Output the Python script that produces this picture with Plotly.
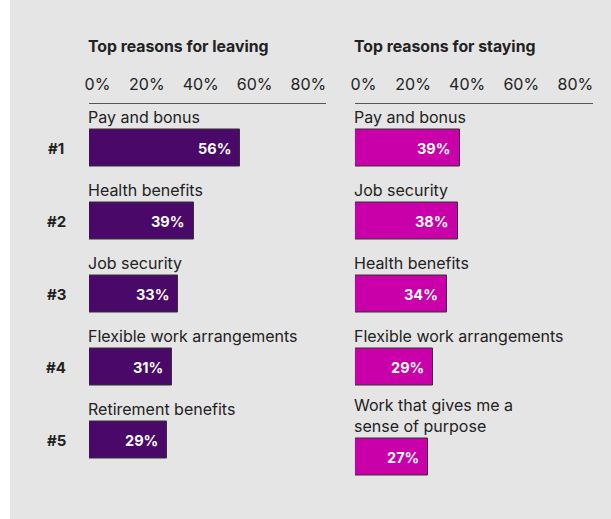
import plotly.graph_objects as go

# Survey results: top five reasons for leaving / staying
leave_reasons = ["Pay and bonus", "Health benefits", "Job security",
                 "Flexible work arrangements", "Retirement benefits"]
leave_values = [56, 39, 33, 31, 29]

stay_reasons = ["Pay and bonus", "Job security", "Health benefits",
                "Flexible work arrangements", "Work that gives me a<br>sense of purpose"]
stay_values = [39, 38, 34, 29, 27]

ranks = ["#1", "#2", "#3", "#4", "#5"]
tick_vals = [0, 20, 40, 60, 80]
tick_text = ["\u00a0\u00a00%", "20%", "40%", "60%", "80%"]

titles = ["Top reasons for leaving", "Top reasons for staying"]

W, H = 611, 519
FONT = "Inter, Roboto, sans-serif"
TEXT = "#222222"
LEAVE_COLOR = "#4a0868"
STAY_COLOR = "#c900a9"
AXIS_TOP_PX = 103.5    # baseline of the percentage scale
ROW_PX = 73.0          # vertical pitch of one row
FIRST_ROW_PX = 148.0   # centre of first bar
EXTRA_LINE_ROWS = 17.0 / ROW_PX

# row positions: rows with multi-line labels are pushed down by the extra line height
def row_positions(labels):
    pos, shift = [], 0.0
    for i, lab in enumerate(labels):
        shift += lab.count("<br>") * EXTRA_LINE_ROWS
        pos.append(i + shift)
    return pos

leave_y = row_positions(leave_reasons)
stay_y = row_positions(stay_reasons)

dom_h = H - AXIS_TOP_PX
y_top = -(FIRST_ROW_PX - AXIS_TOP_PX) / ROW_PX
y_bot = y_top + dom_h / ROW_PX

panels = [
    dict(x0=89, x1=326, xa="x", ya="y", reasons=leave_reasons, vals=leave_values,
         ys=leave_y, color=LEAVE_COLOR),
    dict(x0=355, x1=593, xa="x2", ya="y2", reasons=stay_reasons, vals=stay_values,
         ys=stay_y, color=STAY_COLOR),
]

fig = go.Figure()
annotations = []
shapes = [dict(type="rect", xref="paper", yref="paper", x0=10 / W, x1=1, y0=0, y1=1,
               fillcolor="#e5e5e5", line=dict(width=0), layer="below")]

for p, title in zip(panels, titles):
    fig.add_trace(go.Bar(
        x=p["vals"], y=p["ys"], orientation="h", width=0.5,
        marker=dict(color=p["color"], line=dict(color="#333333", width=1)),
        xaxis=p["xa"], yaxis=p["ya"], hoverinfo="skip", showlegend=False,
    ))
    # value labels inside the bar end
    for v, y in zip(p["vals"], p["ys"]):
        annotations.append(dict(
            x=v, y=y, xref=p["xa"], yref=p["ya"], text=f"<b>{v}%</b>",
            showarrow=False, xanchor="right", yanchor="middle", xshift=-7,
            font=dict(family=FONT, size=14.5, color="white"),
        ))
    # reason labels above each bar
    for lab, y in zip(p["reasons"], p["ys"]):
        annotations.append(dict(
            x=0, y=y, xref=p["xa"], yref=p["ya"], text=lab,
            showarrow=False, xanchor="left", yanchor="bottom", yshift=19, xshift=-3,
            align="left", font=dict(family=FONT, size=16, color=TEXT),
        ))
    # panel title
    annotations.append(dict(
        x=p["x0"] / W - 3 / W, y=1 - 46 / H, xref="paper", yref="paper",
        text=f"<b>{title}</b>", showarrow=False, xanchor="left", yanchor="middle",
        font=dict(family=FONT, size=15.8, color=TEXT),
    ))

# rank labels
for r, y in zip(ranks, leave_y):
    annotations.append(dict(
        x=56 / W, y=y, xref="paper", yref="y", text=f"<b>{r}</b>",
        showarrow=False, xanchor="center", yanchor="middle",
        font=dict(family=FONT, size=15, color=TEXT),
    ))

axis_common = dict(range=[0, 88], tickvals=tick_vals, ticktext=tick_text,
                   side="top", showgrid=False, zeroline=False,
                   showline=True, linecolor="#555555", linewidth=1,
                   ticks="", ticklabelstandoff=6, ticklabelshift=4, automargin=False,
                   tickfont=dict(family=FONT, size=16, color=TEXT),
                   fixedrange=True)
y_common = dict(domain=[0, dom_h / H], range=[y_bot, y_top], showticklabels=False,
                showgrid=False, zeroline=False, showline=False, automargin=False,
                fixedrange=True)

fig.update_layout(
    width=W, height=H,
    margin=dict(l=0, r=0, t=0, b=0, pad=0, autoexpand=False),
    paper_bgcolor="white", plot_bgcolor="rgba(0,0,0,0)",
    xaxis=dict(domain=[89 / W, 326 / W], anchor="y", **axis_common),
    xaxis2=dict(domain=[355 / W, 593 / W], anchor="y2", **axis_common),
    yaxis=dict(anchor="x", **y_common),
    yaxis2=dict(anchor="x2", **y_common),
    annotations=annotations, shapes=shapes,
    bargap=0,
)

fig.write_html("out.html")
